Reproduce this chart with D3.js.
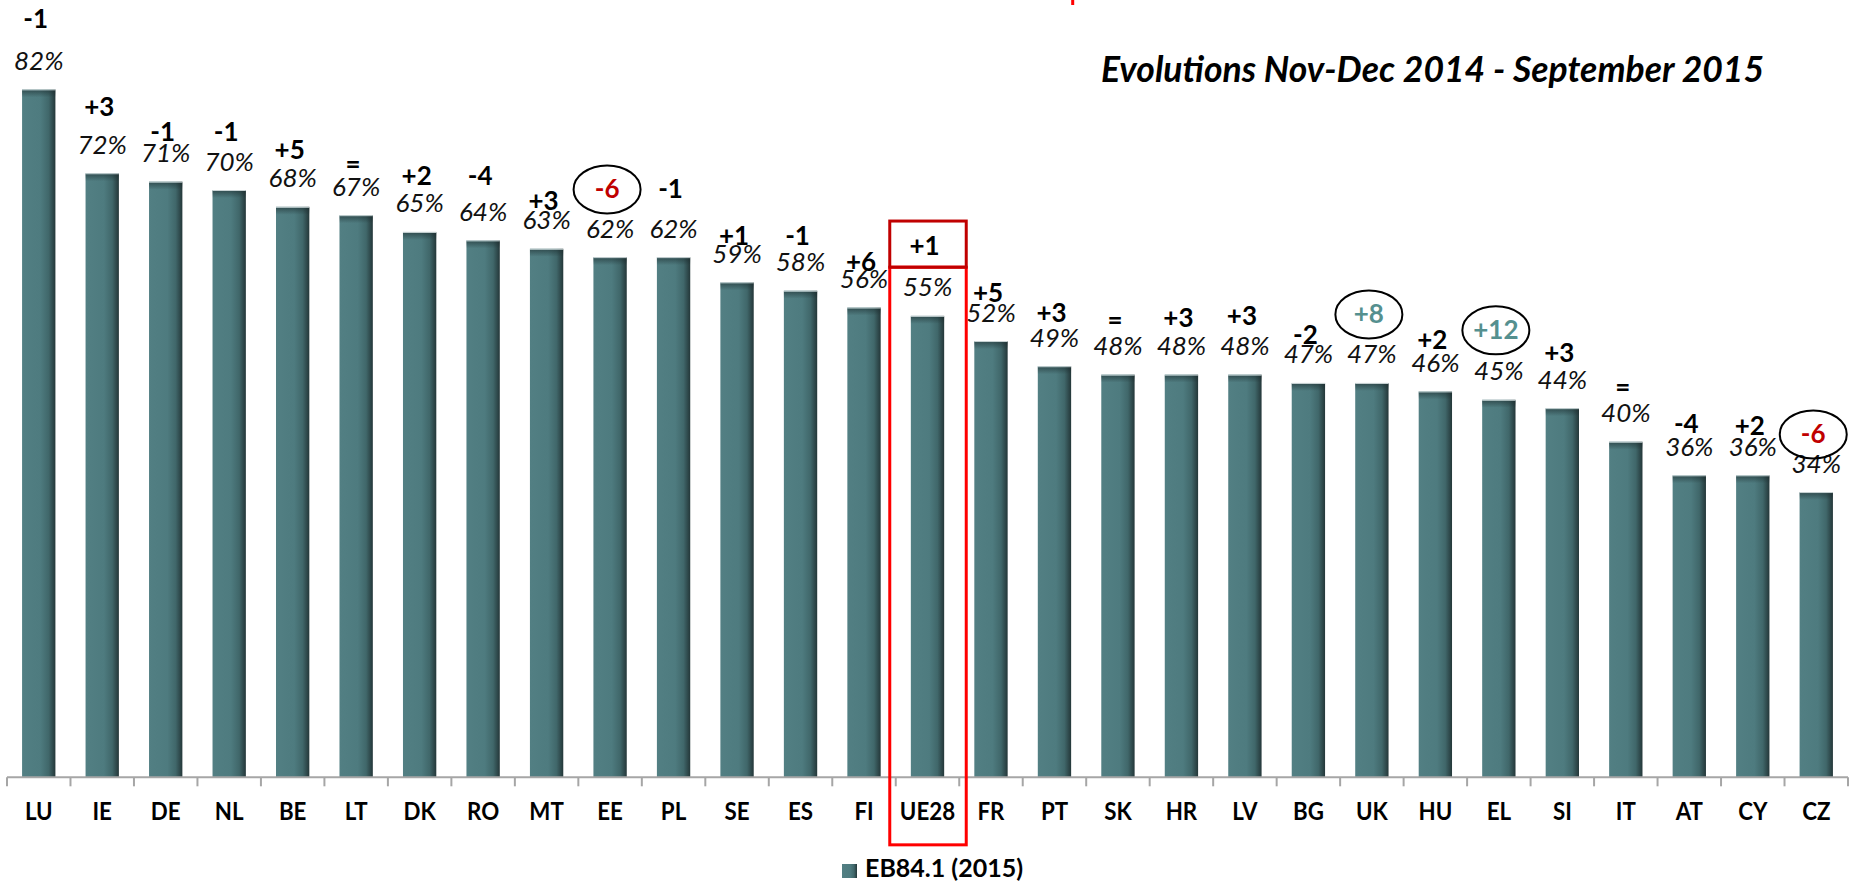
<!DOCTYPE html>
<html>
<head>
<meta charset="utf-8">
<script src="https://cdn.jsdelivr.net/npm/d3@7"></script>
<style>
  html, body { margin: 0; padding: 0; background: #ffffff; }
  svg { display: block; }
  text { font-family: Lato, "Open Sans", "DejaVu Sans", sans-serif; }
</style>
</head>
<body>
<script>
// ---------- data ----------
const categories = ["LU","IE","DE","NL","BE","LT","DK","RO","MT","EE","PL","SE","ES","FI","UE28","FR","PT","SK","HR","LV","BG","UK","HU","EL","SI","IT","AT","CY","CZ"];
const values = [82,72,71,70,68,67,65,64,63,62,62,59,58,56,55,52,49,48,48,48,47,47,46,45,44,40,36,36,34];
const changes = ["-1","+3","-1","-1","+5","=","+2","-4","+3","-6","-1","+1","-1","+6","+1","+5","+3","=","+3","+3","-2","+8","+2","+12","+3","=","-4","+2","-6"];
// height (in % units of the value axis) at which each evolution label sits
const changeAt = [89.3,78.8,75.8,75.8,73.7,72.5,70.6,70.6,67.6,69.0,69.1,63.4,63.4,60.3,62.3,56.7,54.3,53.9,53.7,53.9,51.6,54.1,51.0,52.2,49.5,45.9,41.0,40.8,39.8];
const circled = ["EE","UK","EL","CZ"];
const highlightCategory = "UE28";
const highlightRange = [66.3, 60.8, -8.05]; // top, divider, bottom in % units
const seriesName = "EB84.1 (2015)";
const title = "Evolutions Nov-Dec 2014 - September 2015";

// ---------- layout ----------
const W = 1851, H = 882;
const svg = d3.select("body").append("svg").attr("width", W).attr("height", H);

const x = d3.scaleBand().domain(categories).range([7, 1848]).paddingInner(0.475).paddingOuter(0.2375);
const y = d3.scaleLinear().domain([0, 100]).range([777.3, -61.7]);
const bandStart = c => x(c) - x.step() * x.paddingInner() / 2;

const defs = svg.append("defs");
const g1 = defs.append("linearGradient").attr("id", "barGrad").attr("x1", "0").attr("x2", "1").attr("y1", "0").attr("y2", "0");
g1.append("stop").attr("offset", "0").attr("stop-color", "#527f83");
g1.append("stop").attr("offset", "0.55").attr("stop-color", "#4e7b7f");
g1.append("stop").attr("offset", "0.8").attr("stop-color", "#40676a");
g1.append("stop").attr("offset", "1").attr("stop-color", "#243739");
const g2 = defs.append("linearGradient").attr("id", "topGrad").attr("x1", "0").attr("x2", "0").attr("y1", "0").attr("y2", "1");
g2.append("stop").attr("offset", "0").attr("stop-color", "#1c2c2e").attr("stop-opacity", 0.55);
g2.append("stop").attr("offset", "1").attr("stop-color", "#1c2c2e").attr("stop-opacity", 0);

const data = categories.map((c, i) => ({ c, v: values[i], ch: changes[i], at: changeAt[i] }));

// bars
const bars = svg.append("g");
bars.selectAll("rect.bar").data(data).join("rect")
  .attr("class", "bar")
  .attr("x", d => x(d.c)).attr("width", x.bandwidth())
  .attr("y", d => y(d.v)).attr("height", d => y(0) - y(d.v))
  .attr("fill", "url(#barGrad)");
bars.selectAll("rect.top").data(data).join("rect")
  .attr("class", "top")
  .attr("x", d => x(d.c)).attr("width", x.bandwidth())
  .attr("y", d => y(d.v) + 1).attr("height", 7)
  .attr("fill", "url(#topGrad)");
bars.selectAll("line.edge").data(data).join("line")
  .attr("class", "edge")
  .attr("x1", d => x(d.c)).attr("x2", d => x(d.c) + x.bandwidth())
  .attr("y1", d => y(d.v) + 0.5).attr("y2", d => y(d.v) + 0.5)
  .attr("stroke", "#c9d3d4").attr("stroke-width", 1);

// axis
const axisG = svg.append("g").attr("transform", `translate(0,${y(0)})`)
  .call(d3.axisBottom(x).tickSize(0).tickPadding(0));
axisG.select(".domain").attr("stroke", "#a6a6a6").attr("stroke-width", 2)
  .attr("d", `M${x.range()[0]},0H${x.range()[1]}`);
axisG.selectAll("text").attr("dy", null).attr("y", 43).attr("x", 0)
  .attr("font-size", 24).attr("font-weight", 700).attr("fill", "#000")
  .attr("font-family", "Lato, 'Open Sans', sans-serif")
  .attr("transform", "scale(0.93,1)");
const boundaries = categories.map(bandStart).concat([x.range()[1]]);
axisG.selectAll("line.bt").data(boundaries).join("line")
  .attr("class", "bt")
  .attr("x1", d => d).attr("x2", d => d).attr("y1", 0).attr("y2", 9)
  .attr("stroke", "#a6a6a6").attr("stroke-width", 2);

// value labels
svg.append("g").selectAll("text").data(data).join("text")
  .attr("x", d => x(d.c) + x.bandwidth() / 2)
  .attr("y", d => y(d.v) - 19.5)
  .attr("text-anchor", "middle")
  .attr("font-size", 26).attr("font-style", "italic").attr("fill", "#111")
  .text(d => d.v + "%");

// evolution labels
const chColor = d => circled.includes(d.c) ? (d.ch.startsWith("-") ? "#c00000" : "#55908f") : "#000";
const chBase = d => y(d.at) + (d.ch === "=" ? 4 : 0);
const chG = svg.append("g");
chG.selectAll("ellipse").data(data.filter(d => circled.includes(d.c))).join("ellipse")
  .attr("cx", d => x(d.c) + x.bandwidth() / 2 - 3)
  .attr("cy", d => y(d.at) - 9)
  .attr("rx", 33.5).attr("ry", 24)
  .attr("fill", "none").attr("stroke", "#000").attr("stroke-width", 2);
chG.selectAll("text").data(data).join("text")
  .attr("x", d => x(d.c) + x.bandwidth() / 2 - 3)
  .attr("y", d => chBase(d))
  .attr("text-anchor", "middle")
  .attr("font-size", 26).attr("font-weight", 700)
  .attr("fill", chColor)
  .text(d => d.ch);

// highlight box around UE28 (spans its whole category band)
const hx0 = bandStart(highlightCategory) - 6, hx1 = bandStart(highlightCategory) + x.step() + 7;
svg.append("rect")
  .attr("x", hx0).attr("y", y(highlightRange[1]))
  .attr("width", hx1 - hx0).attr("height", y(highlightRange[2]) - y(highlightRange[1]))
  .attr("fill", "none").attr("stroke", "#ff0000").attr("stroke-width", 3);
svg.append("rect")
  .attr("x", hx0).attr("y", y(highlightRange[0]))
  .attr("width", hx1 - hx0).attr("height", y(highlightRange[1]) - y(highlightRange[0]))
  .attr("fill", "none").attr("stroke", "#c00000").attr("stroke-width", 3);

// title
svg.append("text").attr("x", 1101).attr("y", 82)
  .attr("font-size", 35.5).attr("font-weight", 700).attr("font-style", "italic")
  .attr("fill", "#000").text(title);

// small red mark at top
svg.append("line").attr("x1", 1072.7).attr("x2", 1072.7).attr("y1", 0).attr("y2", 5)
  .attr("stroke", "#ff0000").attr("stroke-width", 3);

// legend
const lg = svg.append("g").attr("transform", "translate(842,864)");
lg.append("rect").attr("x", 0).attr("y", 0).attr("width", 15).attr("height", 14).attr("fill", "url(#barGrad)");
lg.append("text").attr("x", 23).attr("y", 13)
  .attr("font-size", 25).attr("font-weight", 700).attr("fill", "#000").text(seriesName);
</script>
</body>
</html>
